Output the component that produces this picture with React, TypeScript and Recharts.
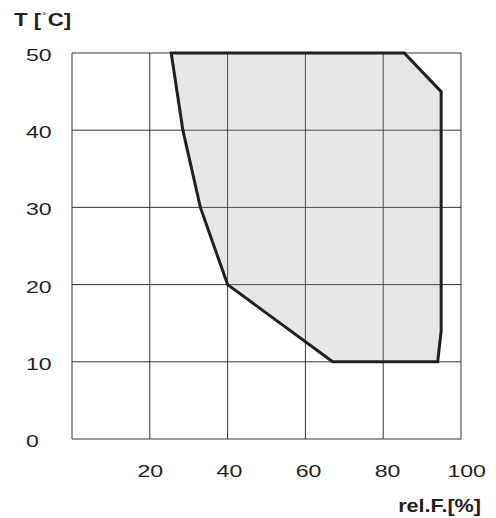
import React from 'react';
import { ComposedChart, Scatter, XAxis, YAxis, CartesianGrid } from 'recharts';

// Operating range polygon (relative humidity [%], temperature [°C])
const rhValues = [25.5, 85.4, 94.9, 94.9, 94, 67, 40, 33, 28.5];
const tValues = [50, 50, 45, 14, 10, 10, 20, 30, 40];
const xTicks = [0, 20, 40, 60, 80, 100];
const yTicks = [0, 10, 20, 30, 40, 50];
const yLabel = 'T [';
const yLabelDegree = '°';
const yLabelUnit = 'C]';
const xLabel = 'rel.F.[%]';

const polygon = rhValues.map((rh, i) => ({ x: rh, y: tValues[i] }));

const FONT = '"Liberation Sans", Arial, sans-serif';
const INK = '#231f20';

const XTick = (props: any) => {
  const { x, payload } = props;
  if (payload.value === 0) return <g />;
  const dx = (payload.value - 20) * 0.065 + 0.5;
  return (
    <g transform={`translate(${x + dx},477) scale(1.4,1)`}>
      <text textAnchor="middle" fontFamily={FONT} fontSize={16.5} fill={INK}>
        {payload.value}
      </text>
    </g>
  );
};

const YTick = (props: any) => {
  const { y, payload } = props;
  return (
    <g transform={`translate(26,${y + 8}) scale(1.4,1)`}>
      <text textAnchor="start" fontFamily={FONT} fontSize={16.5} fill={INK}>
        {payload.value}
      </text>
    </g>
  );
};

const PolygonLine = (props: any) => {
  const pts = (props.points || []).filter((p: any) => p && p.x != null && p.y != null);
  if (!pts.length) return <g />;
  const d = 'M' + pts.map((p: any) => `${p.x},${p.y}`).join('L') + 'Z';
  return (
    <path
      d={d}
      fill="#8f959c"
      fillOpacity={0.24}
      stroke={INK}
      strokeWidth={3}
      strokeLinejoin="miter"
    />
  );
};

export default function App() {
  return (
    <div style={{ position: 'absolute', left: 0, top: 0, width: 496, height: 518, background: '#fff' }}>
      <ComposedChart
        width={496}
        height={518}
        margin={{ top: 53, right: 35, bottom: 0, left: 0 }}
      >
        <CartesianGrid stroke={INK} strokeWidth={1} strokeOpacity={0.9} />
        <XAxis
          type="number"
          dataKey="x"
          domain={[0, 100]}
          ticks={xTicks}
          interval={0}
          axisLine={false}
          tickLine={false}
          height={79}
          tick={<XTick />}
        />
        <YAxis
          type="number"
          dataKey="y"
          domain={[0, 50]}
          ticks={yTicks}
          interval={0}
          axisLine={false}
          tickLine={false}
          width={72}
          tick={<YTick />}
        />
        <Scatter
          data={polygon}
          isAnimationActive={false}
          line={PolygonLine}
          shape={() => <g />}
        />
        <g transform="translate(14,26) scale(1.27,1)">
          <text x={0} y={0} fontFamily={FONT} fontWeight="bold" fontSize={17.5} fill={INK}>
            {yLabel}
          </text>
          <text x={22} y={-7} fontFamily={FONT} fontSize={9} fill={INK}>
            {yLabelDegree}
          </text>
          <text x={26.5} y={0} fontFamily={FONT} fontWeight="bold" fontSize={17.5} fill={INK}>
            {yLabelUnit}
          </text>
        </g>
        <g transform="translate(481,512) scale(1.2,1)">
          <text textAnchor="end" fontFamily={FONT} fontWeight="bold" fontSize={18} fill={INK}>
            {xLabel}
          </text>
        </g>
      </ComposedChart>
    </div>
  );
}
